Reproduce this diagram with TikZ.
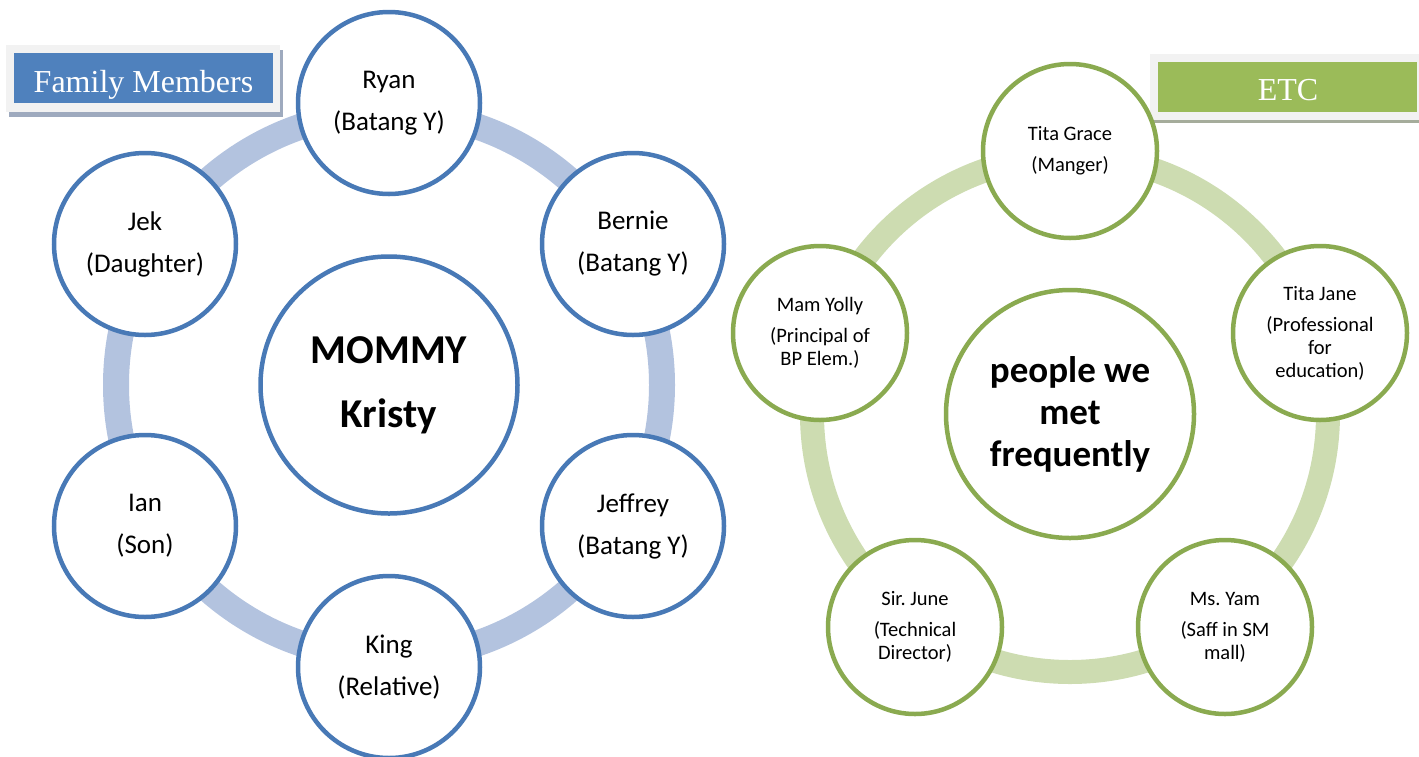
\documentclass[tikz,border=0pt]{standalone}
\usepackage{fontspec}
\setmainfont{Carlito}
\newfontfamily\boxserif{Liberation Serif}
\frenchspacing
\definecolor{bline}{RGB}{72,121,182}
\definecolor{bring}{RGB}{179,195,223}
\definecolor{bbox}{RGB}{79,129,189}
\definecolor{bshadow}{RGB}{158,170,190}
\definecolor{gline}{RGB}{138,170,80}
\definecolor{gring}{RGB}{205,220,177}
\definecolor{gbox}{RGB}{155,187,89}
\definecolor{gshadow}{RGB}{165,172,155}
\definecolor{frame}{RGB}{242,242,242}
\begin{document}
\begin{tikzpicture}[x=1pt,y=-1pt,
  bluering/.style={draw=bring,line width=26pt},
  greenring/.style={draw=gring,line width=24pt},
  bouter/.style={circle,draw=bline,line width=4.5pt,fill=white,minimum size=182pt,inner sep=0pt,align=center,font=\fontsize{27}{33}\selectfont},
  bcenter/.style={circle,draw=bline,line width=4.5pt,fill=white,minimum size=257pt,inner sep=0pt,align=center,font=\bfseries\fontsize{41}{49}\selectfont},
  gouter/.style={circle,draw=gline,line width=4.5pt,fill=white,minimum size=174pt,inner sep=0pt,align=center,font=\frenchspacing\fontsize{20.5}{23}\selectfont},
  gcenter/.style={circle,draw=gline,line width=4.5pt,fill=white,minimum size=248pt,inner sep=0pt,align=center,font=\bfseries\fontsize{37}{42}\selectfont},
  boxtext/.style={text=white,anchor=base,inner sep=0pt,font=\boxserif\fontsize{32}{36}\selectfont}
]
\useasboundingbox (0,0) rectangle (1419,756);

% label boxes
\fill[bshadow] (9,50) rectangle (283,117);
\fill[frame] (6,45) rectangle (280,112);
\fill[bbox] (14,53) rectangle (273,103);
\node[boxtext] (fm) at (143.5,92) {Family Members};

\fill[gshadow] (1154,58) rectangle (1425,123);
\fill[frame] (1150,54) rectangle (1425,120);
\fill[gbox] (1158,62) rectangle (1417,112);
\node[boxtext] (etc) at (1288,100) {ETC};

% left cycle
\coordinate (c1) at (389,385);
\draw[bluering] (c1) circle[radius=273pt];
\node[bcenter] (mommy) at (c1) {MOMMY\\[15pt]Kristy};
\node[bouter] (ryan) at (389,103) {Ryan\\[9pt](Batang Y)};
\node[bouter] (bernie) at (633,244) {Bernie\\[9pt](Batang Y)};
\node[bouter] (jeffrey) at (633,526) {Jeffrey\\[9pt](Batang Y)};
\node[bouter] (king) at (389,667) {King\\[9pt](Relative)};
\node[bouter] (ian) at (145,526) {Ian\\[9pt](Son)};
\node[bouter] (jek) at (145,244) {Jek\\[9pt](Daughter)};

% right cycle
\coordinate (c2) at (1070,414);
\draw[greenring] (c2) circle[radius=258pt];
\node[gcenter] (people) at (c2) {people we\\met\\frequently};
\node[gouter] (grace) at (1070,151) {Tita Grace\\[8pt](Manger)};
\node[gouter] (jane) at (1320,333) {Tita Jane\\[8pt](Professional\\for\\education)};
\node[gouter] (yam) at (1225,627) {Ms.~Yam\\[8pt](Saff in SM\\mall)};
\node[gouter] (june) at (915,627) {Sir.~June\\[8pt](Technical\\Director)};
\node[gouter] (yolly) at (820,333) {Mam Yolly\\[8pt](Principal of\\BP Elem.)};
\end{tikzpicture}
\end{document}
